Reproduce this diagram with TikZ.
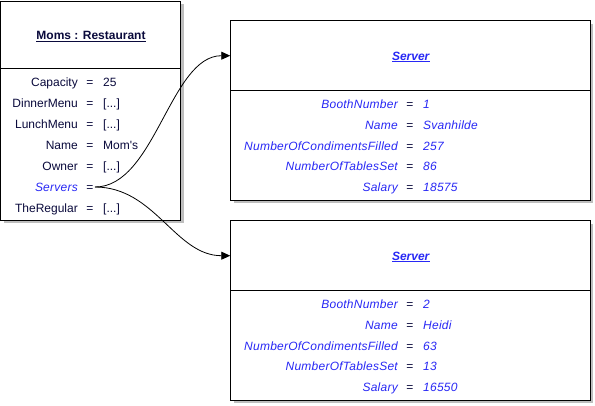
\documentclass[tikz,border=0pt]{standalone}
\usepackage{fontspec}
\setmainfont{Liberation Sans}[Ligatures=TeXOff]
\usetikzlibrary{arrows.meta,shadows}
\definecolor{navytext}{RGB}{10,10,60}
\definecolor{bluetext}{RGB}{40,40,245}
\definecolor{shadowgray}{RGB}{190,190,190}
\tikzset{
  objbox/.style={draw=black, line width=1pt, fill=white, inner sep=0pt,
    drop shadow={shadow xshift=3pt, shadow yshift=-3pt, fill=shadowgray, opacity=1}},
  txt/.style={inner sep=0pt, text height=8.6pt, text depth=0pt, font=\fontsize{12}{14}\selectfont},
  lab/.style={txt, anchor=east, text=navytext},
  val/.style={txt, anchor=west, text=navytext},
  eqs/.style={txt, text=navytext},
  blab/.style={txt, anchor=east, text=bluetext, font=\fontsize{12}{14}\selectfont\itshape\addfontfeature{LetterSpace=2}},
  bval/.style={txt, anchor=west, text=bluetext, font=\fontsize{12}{14}\selectfont\itshape\addfontfeature{LetterSpace=2}},
  sep/.style={line width=1pt},
  conn/.style={line width=0.8pt, -{Triangle[length=9pt,width=8pt]}},
}
\begin{document}
\begin{tikzpicture}[x=1pt,y=-1pt]
\useasboundingbox (0,0) rectangle (595,405);
% left object
\node[objbox, minimum width=180pt, minimum height=219pt] (moms) at (90.75,110.5) {};
\draw[sep] (moms.west |- 0,68.3) -- (moms.east |- 0,68.3);
\node[txt, text=navytext] (momstitle) at (91,35) {\underline{\textbf{Moms : Restaurant}}};
\node[lab] (l1) at (78,82) {Capacity};   \node[eqs] (e1) at (90,82) {=}; \node[val] (v1) at (103,82) {25};
\node[lab] (l2) at (78,103) {DinnerMenu}; \node[eqs] (e2) at (90,103) {=}; \node[val] (v2) at (103,103) {[...]};
\node[lab] (l3) at (78,124) {LunchMenu};  \node[eqs] (e3) at (90,124) {=}; \node[val] (v3) at (103,124) {[...]};
\node[lab] (l4) at (78,145) {Name};       \node[eqs] (e4) at (90,145) {=}; \node[val] (v4) at (103,145) {Mom's};
\node[lab] (l5) at (78,166) {Owner};      \node[eqs] (e5) at (90,166) {=}; \node[val] (v5) at (103,166) {[...]};
\node[blab] (l6) at (78,187) {Servers};   \node[eqs] (e6) at (90,187) {=};
\node[lab] (l7) at (78,208) {TheRegular}; \node[eqs] (e7) at (90,208) {=}; \node[val] (v7) at (103,208) {[...]};
\coordinate (srv) at (95,187);
% server 1
\node[objbox, minimum width=359.5pt, minimum height=179.5pt] (s1) at (410.5,110.3) {};
\draw[sep] (s1.west |- 0,90.3) -- (s1.east |- 0,90.3);
\node[txt, text=bluetext] (t1) at (411,55.7) {\underline{\textbf{\itshape Server}}};
\node[blab] (a1) at (398,104) {BoothNumber};              \node[eqs] (ae1) at (410,104) {=}; \node[bval] (av1) at (423,104) {1};
\node[blab] (a2) at (398,125) {Name};                     \node[eqs] (ae2) at (410,125) {=}; \node[bval] (av2) at (423,125) {Svanhilde};
\node[blab] (a3) at (398,146) {NumberOfCondimentsFilled}; \node[eqs] (ae3) at (410,146) {=}; \node[bval] (av3) at (423,146) {257};
\node[blab] (a4) at (398,166.5) {NumberOfTablesSet};      \node[eqs] (ae4) at (410,166.5) {=}; \node[bval] (av4) at (423,166.5) {86};
\node[blab] (a5) at (398,187.5) {Salary};                 \node[eqs] (ae5) at (410,187.5) {=}; \node[bval] (av5) at (423,187.5) {18575};
% server 2
\node[objbox, minimum width=359.5pt, minimum height=179.5pt] (s2) at (410.5,310.3) {};
\draw[sep] (s2.west |- 0,290.3) -- (s2.east |- 0,290.3);
\node[txt, text=bluetext] (t2) at (411,255.7) {\underline{\textbf{\itshape Server}}};
\node[blab] (b1) at (398,304) {BoothNumber};              \node[eqs] (be1) at (410,304) {=}; \node[bval] (bv1) at (423,304) {2};
\node[blab] (b2) at (398,325) {Name};                     \node[eqs] (be2) at (410,325) {=}; \node[bval] (bv2) at (423,325) {Heidi};
\node[blab] (b3) at (398,346) {NumberOfCondimentsFilled}; \node[eqs] (be3) at (410,346) {=}; \node[bval] (bv3) at (423,346) {63};
\node[blab] (b4) at (398,366.5) {NumberOfTablesSet};      \node[eqs] (be4) at (410,366.5) {=}; \node[bval] (bv4) at (423,366.5) {13};
\node[blab] (b5) at (398,387.5) {Salary};                 \node[eqs] (be5) at (410,387.5) {=}; \node[bval] (bv5) at (423,387.5) {16550};
% connectors
\draw[conn] (srv) .. controls +(60,0) and +(-60,0) .. (s1.west |- t1);
\draw[conn] (srv) .. controls +(60,0) and +(-55,0) .. (s2.west |- t2);
\end{tikzpicture}
\end{document}
